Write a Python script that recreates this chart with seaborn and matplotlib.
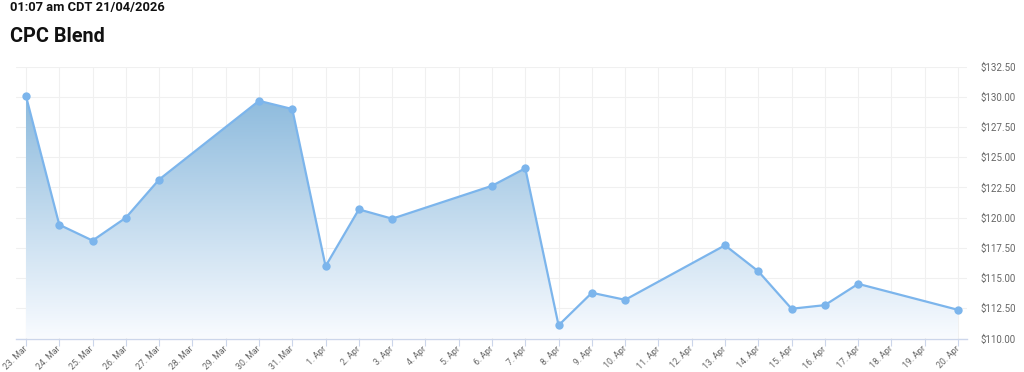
import numpy as np
import pandas as pd
import matplotlib
matplotlib.use("Agg")
import matplotlib.pyplot as plt
import matplotlib.dates as mdates
from matplotlib.ticker import FuncFormatter, MultipleLocator
from matplotlib.colors import LinearSegmentedColormap
import seaborn as sns

# ---- data ----
dates = ["2026-03-23", "2026-03-24", "2026-03-25", "2026-03-26", "2026-03-27",
         "2026-03-30", "2026-03-31", "2026-04-01", "2026-04-02", "2026-04-03",
         "2026-04-06", "2026-04-07", "2026-04-08", "2026-04-09", "2026-04-10",
         "2026-04-13", "2026-04-14", "2026-04-15", "2026-04-16", "2026-04-17",
         "2026-04-20"]
prices = [130.05, 119.41, 118.10, 119.99, 123.15,
          129.66, 128.98, 115.98, 120.68, 119.91,
          122.63, 124.08, 111.09, 113.78, 113.20,
          117.71, 115.56, 112.46, 112.76, 114.52,
          112.37]
timestamp_text = "01:07 am CDT 21/04/2026"
title_text = "CPC Blend"

df = pd.DataFrame({"date": pd.to_datetime(dates), "price": prices})

sns.set_style("white")
plt.rcParams["font.family"] = ["Roboto", "DejaVu Sans"]

line_color = "#7cb5ec"
fig = plt.figure(figsize=(10.24, 3.72), dpi=100)
ax = fig.add_axes([16 / 1024, 1 - 338.5 / 372, (967 - 16) / 1024, (338.5 - 66.5) / 372])

start = pd.Timestamp("2026-03-23")
end = pd.Timestamp("2026-04-20")
x0 = mdates.date2num(start) - 0.3
x1 = mdates.date2num(end) + 0.27
ymin, ymax = 110, 132.5
ax.set_xlim(x0, x1)
ax.set_ylim(ymin, ymax)

# gradient fill under the line
poly = ax.fill_between(df["date"], df["price"], ymin, color="none", lw=0)
cmap = LinearSegmentedColormap.from_list("g", [(0.975, 0.985, 1.0), (0.50, 0.70, 0.85)])
grad = np.linspace(0, 1, 256).reshape(-1, 1)
img = ax.imshow(grad, cmap=cmap, aspect="auto", origin="lower",
                extent=[x0, x1, ymin, ymax], zorder=1, interpolation="bicubic")
img.set_clip_path(poly.get_paths()[0], transform=ax.transData)
ax.set_xlim(x0, x1)
ax.set_ylim(ymin, ymax)

sns.lineplot(data=df, x="date", y="price", ax=ax, color=line_color, lw=1.6,
             marker="o", markersize=6, markeredgewidth=0, zorder=3)

# grid
ax.xaxis.set_major_locator(mdates.DayLocator())
ax.yaxis.set_major_locator(MultipleLocator(2.5))
ax.grid(True, color="#f0f0f0", lw=0.8, zorder=0)
ax.set_axisbelow(True)

for s in ["top", "left", "right"]:
    ax.spines[s].set_visible(False)
ax.spines["bottom"].set_color("#ccd6eb")
ax.spines["bottom"].set_linewidth(1)

ax.xaxis.set_major_formatter(FuncFormatter(
    lambda v, p: f"{mdates.num2date(v).day}. {mdates.num2date(v).strftime('%b')}"))
ax.tick_params(axis="x", which="major", length=5, width=0.8, color="#ccd6eb",
               labelsize=6.3, labelcolor="#666666", pad=1.5, bottom=True)
for lab in ax.get_xticklabels():
    lab.set_rotation(45)
    lab.set_ha("right")
    lab.set_va("center")
    lab.set_rotation_mode("anchor")

ax.yaxis.tick_right()
ax.yaxis.set_major_formatter(FuncFormatter(lambda v, p: f"${v:,.2f}"))
ax.tick_params(axis="y", length=0, labelsize=7, labelcolor="#666666", pad=9.5)
ax.set_xlabel("")
ax.set_ylabel("")
if ax.get_legend():
    ax.get_legend().remove()

fig.text(10 / 1024, 1 - 7 / 372, timestamp_text, fontsize=9.3, fontweight="bold",
         color="#111111", va="center", ha="left")
fig.text(10 / 1024, 1 - 36 / 372, title_text, fontsize=14.3, fontweight="bold",
         color="#111111", va="center", ha="left")

fig.savefig("out.png", dpi=100)
